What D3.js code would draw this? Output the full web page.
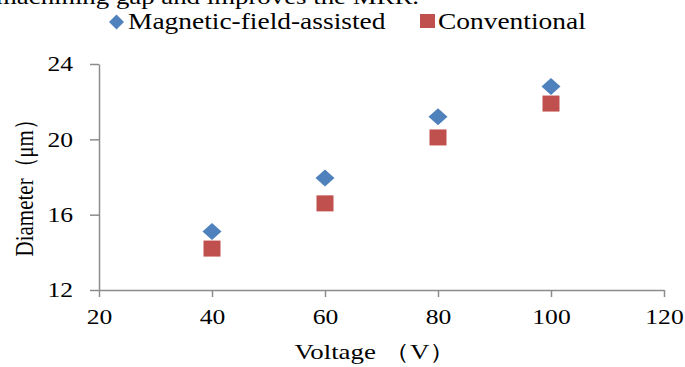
<!DOCTYPE html>
<html>
<head>
<meta charset="utf-8">
<script src="https://cdn.jsdelivr.net/npm/d3@7"></script>
<style>
  body { margin: 0; background: #fff; }
  svg text { font-family: "Liberation Serif", "Times New Roman", serif; fill: #000; }
</style>
</head>
<body>
<div id="chart"></div>
<script>
// data
var voltage = [40, 60, 80, 100];
var magnetic = [15.1, 17.95, 21.2, 22.8];
var conventional = [14.2, 16.6, 20.1, 21.9];
var xTicks = [20, 40, 60, 80, 100, 120];
var yTicks = [12, 16, 20, 24];
var seriesNames = ["Magnetic-field-assisted", "Conventional"];

// the source picture is stretched sideways, so text is too
var SX = 1.22;
var blue = "#4f81bd", red = "#c0504d", axisColor = "#8c8c8c";

var width = 685, height = 367;

var svg = d3.select("#chart").append("svg")
    .attr("width", width)
    .attr("height", height);

// set the ranges
var x = d3.scaleLinear().domain([20, 120]).range([99, 664]);
var y = d3.scaleLinear().domain([12, 24]).range([290, 64]);

// cut-off line of body text above the chart
svg.append("text")
    .attr("transform", "translate(-4,4) scale(" + SX + ",1)")
    .style("font-size", "22px")
    .text("machining gap and improves the MRR.");

// y axis
var yAxis = svg.append("g")
    .attr("transform", "translate(" + x(20) + ",0)")
    .call(d3.axisLeft(y).tickValues(yTicks).tickSize(9).tickSizeOuter(0).tickPadding(17));

yAxis.selectAll("text")
    .style("font-size", "21px")
    .attr("x", -26 / SX)
    .attr("transform", "scale(" + SX + ",1)");

// x axis
var xAxis = svg.append("g")
    .attr("transform", "translate(0," + y(12) + ")")
    .call(d3.axisBottom(x).tickValues(xTicks).tickSize(7).tickSizeOuter(0).tickPadding(12));

xAxis.selectAll("text")
    .style("font-size", "21px")
    .attr("transform", "scale(" + SX + ",1)");

svg.selectAll(".domain, .tick line")
    .attr("stroke", axisColor)
    .attr("stroke-width", 1.5);
svg.selectAll(".tick text").attr("fill", "#000").style("font-family", '"Liberation Serif", serif');

// axis titles
svg.append("text")
    .attr("transform", "translate(" + ((x(20) + x(120)) / 2 - 6) + ",359) scale(" + SX + ",1)")
    .attr("text-anchor", "middle")
    .style("font-size", "22px")
    .text("Voltage \uFF08V\uFF09");

svg.append("text")
    .attr("transform", "translate(33,183) rotate(-90) scale(1," + SX + ")")
    .attr("text-anchor", "middle")
    .style("font-size", "21px")
    .text("Diameter\uFF08\u03bcm\uFF09");

// conventional squares
var sq = 17;
svg.selectAll(".conv")
    .data(voltage)
    .enter().append("rect")
    .attr("class", "conv")
    .attr("x", function(d) { return x(d) - sq / 2; })
    .attr("y", function(d, i) { return y(conventional[i]) - 8; })
    .attr("width", sq)
    .attr("height", 16)
    .attr("fill", red);

// magnetic diamonds
function diamond(cx, cy, w, h) {
  return "M" + cx + "," + (cy - h / 2) + "L" + (cx + w / 2) + "," + cy +
         "L" + cx + "," + (cy + h / 2) + "L" + (cx - w / 2) + "," + cy + "Z";
}
svg.selectAll(".mag")
    .data(voltage)
    .enter().append("path")
    .attr("class", "mag")
    .attr("d", function(d, i) { return diamond(x(d), y(magnetic[i]), 19, 17); })
    .attr("fill", blue);

// legend
var legend = svg.append("g");
legend.append("path")
    .attr("d", diamond(116.5, 22, 15, 15))
    .attr("fill", blue);
legend.append("text")
    .attr("transform", "translate(128,29) scale(" + SX + ",1)")
    .style("font-size", "22.5px")
    .text(seriesNames[0]);
legend.append("rect")
    .attr("x", 420).attr("y", 14)
    .attr("width", 15).attr("height", 14)
    .attr("fill", red);
legend.append("text")
    .attr("transform", "translate(438,29) scale(" + SX + ",1)")
    .style("font-size", "22.5px")
    .text(seriesNames[1]);
</script>
</body>
</html>
